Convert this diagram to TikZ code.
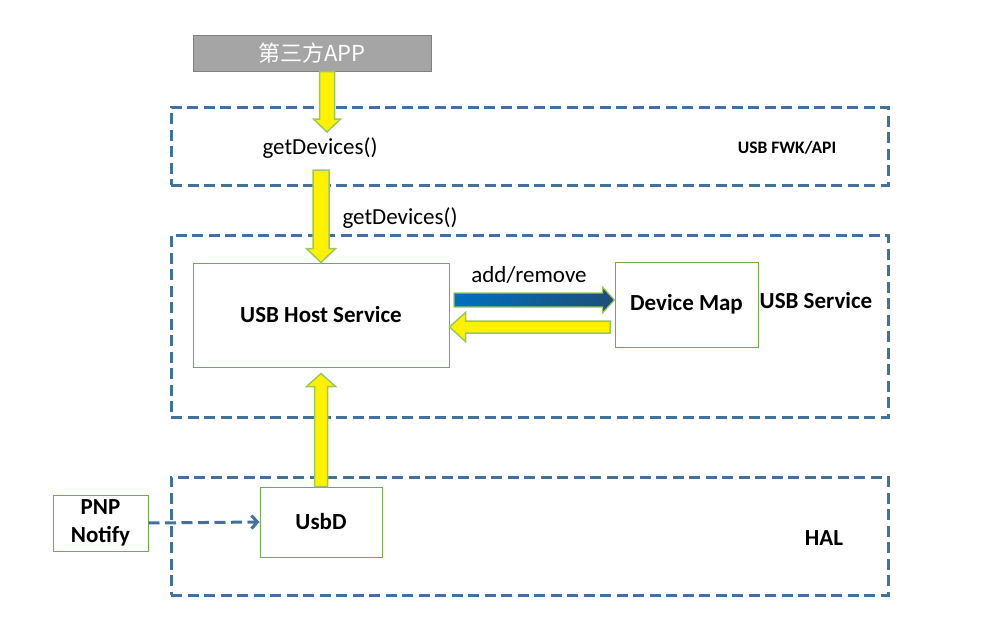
\documentclass[tikz,border=0pt]{standalone}
\usepackage{fontspec}
\setmainfont{Carlito}
\newfontfamily\cjk{Noto Sans CJK SC}
\usetikzlibrary{calc,arrows.meta}
\definecolor{dashblue}{HTML}{41719C}
\definecolor{boxgreen}{HTML}{70AD47}
\definecolor{arrgreen}{HTML}{9BC85A}
\definecolor{appgray}{HTML}{A5A5A5}
\definecolor{appedge}{HTML}{808080}
\definecolor{blueA}{HTML}{0070C0}
\definecolor{blueB}{HTML}{1F4E79}
\newcommand{\blockarrow}[6]{%
  \path[#6] ($(#1)!#3!90:(#2)$) -- ($($(#2)!#5!(#1)$)!#3!-90:(#1)$)
    -- ($($(#2)!#5!(#1)$)!#4!-90:(#1)$) -- (#2)
    -- ($($(#2)!#5!(#1)$)!#4!90:(#1)$) -- ($($(#2)!#5!(#1)$)!#3!90:(#1)$)
    -- ($(#1)!#3!-90:(#2)$) -- cycle;}
\tikzset{
  dashbox/.style={draw=dashblue, line width=3pt, dash pattern=on 11pt off 5.5pt, inner sep=0pt},
  greenbox/.style={draw=boxgreen, line width=1pt, fill=white, inner sep=0pt, align=center, font=\fontsize{23}{27}\selectfont\bfseries},
  plain/.style={inner sep=0pt, font=\fontsize{23}{27}\selectfont},
  boldlabel/.style={inner sep=0pt, font=\fontsize{23}{27}\selectfont\bfseries},
  yarrow/.style={fill=yellow, draw=arrgreen, line width=1.5pt, line join=miter},
  barrow/.style={left color=blueA, right color=blueB, draw=arrgreen, line width=1.2pt},
}
\begin{document}
\begin{tikzpicture}[x=1pt,y=-1pt]
\useasboundingbox (0,0) rectangle (997,643);
% frames
\node[dashbox, minimum width=717pt, minimum height=78pt] (fwk) at (529.5,146) {};
\node[dashbox, minimum width=717pt, minimum height=182pt] (svc) at (529.5,326) {};
\node[dashbox, minimum width=717pt, minimum height=118pt] (hal) at (529.5,536) {};
% app
\node[fill=appgray, draw=appedge, line width=1pt, minimum width=238pt, minimum height=36pt, inner sep=0pt,
  text=white, font=\fontsize{22}{24}\selectfont\cjk] (app) at (312,53) {第三方APP};
% texts
\node[plain] (gd1) at (320,148) {getDevices()};
\node[inner sep=0pt, font=\fontsize{17.5}{20}\selectfont\bfseries] (fwklabel) at (787,148) {USB FWK/API};
\node[plain] (gd2) at (400,218) {getDevices()};
\node[boldlabel] (svclabel) at (816,301) {USB Service};
\node[plain] (addrm) at (529,275) {add/remove};
\node[boldlabel] (hallabel) at (824,538) {HAL};
% boxes
\node[greenbox, minimum width=256pt, minimum height=104pt] (host) at (321,315) {USB Host Service};
\node[greenbox, minimum width=143pt, minimum height=85pt] (dmap) at (686.5,304.5) {Device Map};
\node[greenbox, minimum width=122pt, minimum height=70pt] (usbd) at (321,522) {UsbD};
\node[greenbox, minimum width=95pt, minimum height=56pt, font=\fontsize{23}{28}\selectfont\bfseries] (pnp) at (100.5,523) {PNP\\Notify};
% arrow endpoints
\coordinate (a1s) at ($(app.south)+(15,0)$);
\coordinate (a1t) at (327,132);
\coordinate (a2s) at (321,170);
\coordinate (a2t) at (host.north);
\coordinate (a3s) at (usbd.north);
\coordinate (a3t) at ($(host.south)+(0,6)$);
\coordinate (a4s) at (454,300);
\coordinate (a4t) at (dmap.west |- a4s);
\coordinate (a5s) at (610,327);
\coordinate (a5t) at (host.east |- a5s);
% block arrows
\blockarrow{a1s}{a1t}{7.5pt}{13.5pt}{13pt}{yarrow}
\blockarrow{a2s}{a2t}{8pt}{14.5pt}{14pt}{yarrow}
\blockarrow{a3s}{a3t}{6.5pt}{14.5pt}{13pt}{yarrow}
\blockarrow{a4s}{a4t}{7pt}{13pt}{12pt}{barrow}
\blockarrow{a5s}{a5t}{6pt}{14.5pt}{16pt}{yarrow}
% dashed connector
\draw[draw=dashblue, line width=3pt, dash pattern=on 11pt off 5.5pt,
  -{Straight Barb[length=6pt,width=13pt,line width=3pt]}] (pnp.east) -- (usbd.west);
\end{tikzpicture}
\end{document}
